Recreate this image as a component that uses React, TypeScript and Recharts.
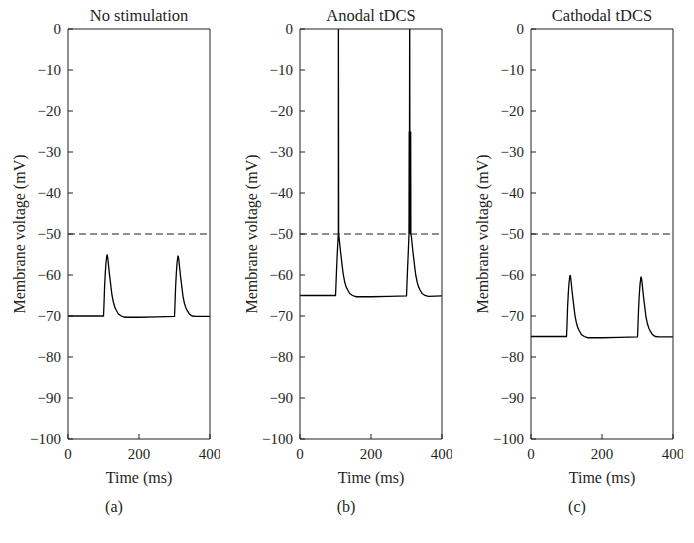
import React from 'react';
import { LineChart, Line, XAxis, YAxis, ReferenceLine } from 'recharts';

// Panel (a): No stimulation
const timeA = [0, 100, 101, 103, 105, 107, 109, 110, 112, 114, 116, 118, 121, 124, 128, 132, 136, 142, 150, 160, 200, 250, 300, 301, 303, 305, 307, 309, 310, 312, 314, 316, 318, 321, 324, 328, 332, 336, 342, 350, 360, 400];
const voltA = [-70, -70, -68, -63, -59.5, -57, -55.5, -55, -55.8, -57.5, -59.2, -60.7, -62.9, -65, -66.7, -67.9, -68.6, -69.5, -70, -70.3, -70.3, -70.2, -70.1, -68.1, -63.2, -59.8, -57.3, -55.8, -55.3, -56.1, -57.8, -59.5, -61, -63.1, -65.2, -66.9, -68, -68.7, -69.5, -70, -70.1, -70.1];

// Panel (b): Anodal tDCS (spikes cross the -50 mV threshold)
const timeB = [0, 100, 101, 103, 105, 107, 108, 108, 108.8, 110, 112, 114, 116, 119, 122, 126, 130, 134, 140, 148, 158, 200, 250, 300, 301, 303, 305, 306.5, 307, 307.6, 308.2, 309, 309.8, 310.4, 311.2, 311.8, 312.4, 314, 316, 318, 320, 323, 326, 330, 334, 338, 344, 352, 362, 400];
const voltB = [-65, -65, -63, -58.5, -54.5, -51.5, -50, 10, -50, -50.8, -52.5, -54.2, -55.7, -57.9, -60, -61.7, -62.9, -63.6, -64.5, -65, -65.3, -65.3, -65.2, -65.1, -63, -58.5, -54.5, -51.2, -50, -25, -50, 10, -50, -25, -50, -25, -50, -50.8, -52.5, -54.2, -55.7, -57.9, -60, -61.7, -62.9, -63.6, -64.5, -65, -65.2, -65.1];

// Panel (c): Cathodal tDCS
const timeC = [0, 100, 101, 103, 105, 107, 109, 110, 112, 114, 116, 118, 121, 124, 128, 132, 136, 142, 150, 160, 200, 250, 300, 301, 303, 305, 307, 309, 310, 312, 314, 316, 318, 321, 324, 328, 332, 336, 342, 350, 360, 400];
const voltC = [-75, -75, -73, -68, -64.5, -62, -60.5, -60, -60.8, -62.5, -64.2, -65.7, -67.9, -70, -71.7, -72.9, -73.6, -74.5, -75, -75.3, -75.3, -75.2, -75.1, -73.1, -68.3, -64.9, -62.4, -60.9, -60.4, -61.2, -62.9, -64.6, -66.1, -68.2, -70.3, -71.9, -73, -73.7, -74.5, -75, -75.1, -75.1];

const titles = ['No stimulation', 'Anodal tDCS', 'Cathodal tDCS'];
const letters = ['(a)', '(b)', '(c)'];
const yTicks = [0, -10, -20, -30, -40, -50, -60, -70, -80, -90, -100];
const xTicks = [0, 200, 400];
const threshold = -50;
const xLabel = 'Time (ms)';
const yLabel = 'Membrane voltage (mV)';

const FONT = '"Liberation Serif", "Times New Roman", serif';
const INK = '#231f20';

const fmtY = (v: number) => (v < 0 ? `\u2212${Math.abs(v)}` : `${v}`);

type PanelProps = { left: number; time: number[]; volt: number[]; title: string; letter: string };

function Panel({ left, time, volt, title, letter }: PanelProps) {
  const data = time.map((t, i) => ({ t, v: volt[i] }));
  const tickStyle = { fontFamily: FONT, fontSize: 15, fill: INK, style: { fontFamily: FONT } };
  return (
    <>
      <div style={{ position: 'absolute', left, top: 0, fontFamily: FONT }}>
        <LineChart width={220} height={543} data={data} margin={{ top: 0, right: 0, bottom: 0, left: 0 }} style={{ fontFamily: FONT }}>
          <XAxis
            dataKey="t"
            type="number"
            domain={[0, 400]}
            ticks={xTicks}
            interval={0}
            allowDataOverflow
            height={104}
            stroke={INK}
            tickSize={-5}
            tickMargin={14}
            tick={tickStyle}
            label={{ value: xLabel, position: 'insideTop', offset: 33, fontFamily: FONT, fontSize: 16, fill: INK, style: { fontFamily: FONT } }}
          />
          <XAxis
            xAxisId="top"
            orientation="top"
            type="number"
            domain={[0, 400]}
            ticks={xTicks}
            interval={0}
            allowDataOverflow
            height={29}
            stroke={INK}
            tickSize={-5}
            tick={false}
            label={{ value: title, position: 'insideTop', offset: 9, fontFamily: FONT, fontSize: 16.5, fill: INK, style: { fontFamily: FONT } }}
          />
          <YAxis
            type="number"
            domain={[-100, 0]}
            ticks={yTicks}
            interval={0}
            allowDataOverflow
            width={68}
            stroke={INK}
            tickSize={-5}
            tickMargin={12}
            tick={tickStyle}
            tickFormatter={fmtY}
            label={{
              value: yLabel,
              angle: -90,
              position: 'insideLeft',
              offset: 19,
              fontFamily: FONT,
              fontSize: 16,
              fill: INK,
              style: { textAnchor: 'middle', fontFamily: FONT },
            }}
          />
          <YAxis
            yAxisId="right"
            orientation="right"
            type="number"
            domain={[-100, 0]}
            ticks={yTicks}
            interval={0}
            allowDataOverflow
            width={10}
            stroke={INK}
            tickSize={-5}
            tick={false}
          />
          <ReferenceLine y={threshold} stroke={INK} strokeDasharray="7 4" strokeWidth={1} />
          <Line
            dataKey="v"
            type="linear"
            stroke="#000"
            strokeWidth={1.3}
            dot={false}
            activeDot={false}
            isAnimationActive={false}
          />
        </LineChart>
      </div>
      <div
        style={{
          position: 'absolute',
          left: left + 114 - 20,
          top: 498,
          width: 40,
          textAlign: 'center',
          fontFamily: FONT,
          fontSize: 16,
          lineHeight: '18px',
          color: INK,
        }}
      >
        {letter}
      </div>
    </>
  );
}

export default function App() {
  return (
    <div style={{ position: 'absolute', left: 0, top: 0, width: 694, height: 543, background: '#fff', overflow: 'hidden', fontFamily: FONT }}>
      <Panel left={0} time={timeA} volt={voltA} title={titles[0]} letter={letters[0]} />
      <Panel left={232} time={timeB} volt={voltB} title={titles[1]} letter={letters[1]} />
      <Panel left={463} time={timeC} volt={voltC} title={titles[2]} letter={letters[2]} />
    </div>
  );
}
